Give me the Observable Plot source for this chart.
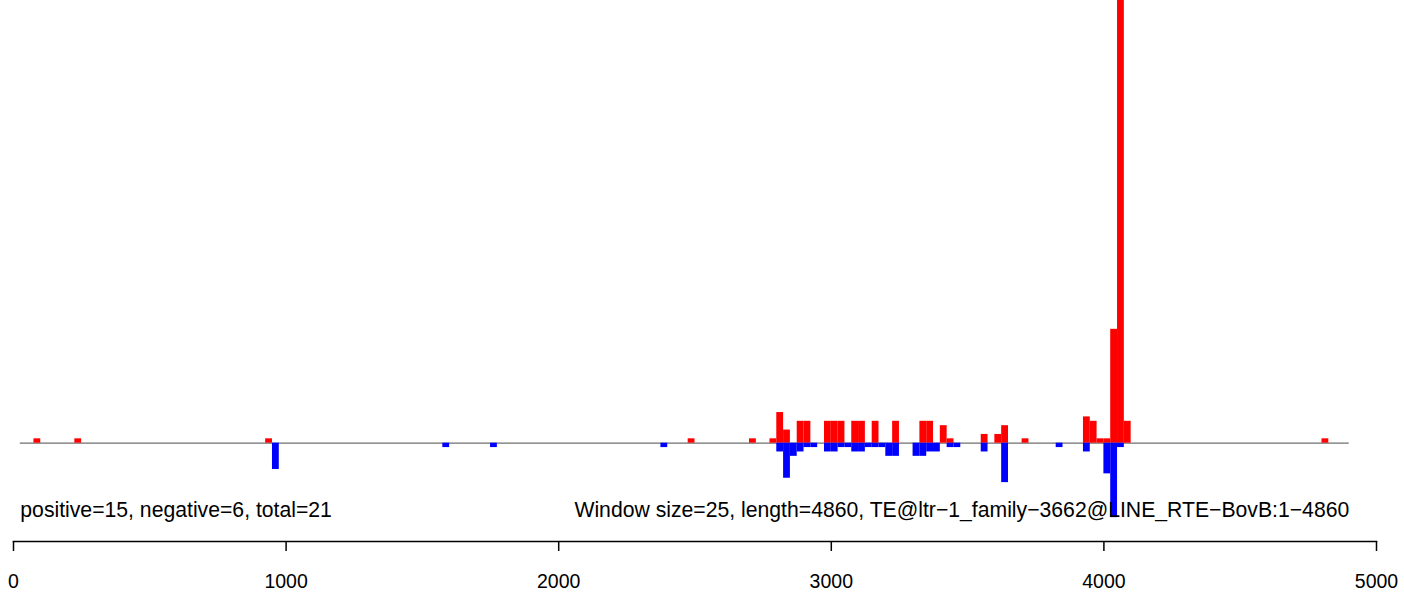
<!DOCTYPE html>
<html>
<head>
<meta charset="utf-8">
<script src="https://cdn.jsdelivr.net/npm/d3@7"></script>
<script src="https://cdn.jsdelivr.net/npm/@observablehq/plot@0.6"></script>
<style>
  html, body { margin: 0; padding: 0; background: #fff; }
  svg { display: block; }
</style>
</head>
<body>
<div id="chart"></div>
<script>
// Window start positions (window size 25) and counts
const windowSize = 25;
const posStarts = [75, 225, 925, 2475, 2700, 2775, 2800, 2825, 2875, 2900, 2975, 3000, 3025, 3075, 3100, 3150, 3225, 3325, 3350, 3400, 3425, 3550, 3600, 3625, 3700, 3925, 3950, 3975, 4000, 4025, 4050, 4075, 4800];
const posValues = [1, 1, 1, 1, 1, 1, 7, 3, 5, 5, 5, 5, 5, 5, 5, 5, 5, 5, 5, 4, 1, 2, 2, 4, 1, 6, 5, 1, 1, 26, 140, 5, 1];
const negStarts = [950, 1575, 1750, 2375, 2800, 2825, 2850, 2875, 2900, 2925, 2975, 3000, 3025, 3050, 3075, 3100, 3125, 3150, 3175, 3200, 3225, 3300, 3325, 3350, 3375, 3425, 3450, 3550, 3625, 3825, 3925, 4000, 4025, 4050];
const negValues = [6, 1, 1, 1, 2, 8, 3, 2, 1, 1, 2, 2, 1, 1, 2, 2, 1, 1, 1, 3, 3, 3, 3, 2, 2, 1, 1, 2, 9, 1, 2, 7, 17, 1];
const xTicks = [0, 1000, 2000, 3000, 4000, 5000];
const leftNote = "positive=15, negative=6, total=21";
const rightNote = "Window size=25, length=4860, TE@ltr\u22121_family\u22123662@LINE_RTE\u2212BovB:1\u22124860";

const pos = posStarts.map((s, i) => ({x1: s, x2: s + windowSize, y: posValues[i]}));
const neg = negStarts.map((s, i) => ({x1: s, x2: s + windowSize, y: -negValues[i]}));

const W = 1404, H = 592;
const mTop = 0, mBottom = 51;
const base = 442.7, unit = 4.38;
const yTop = (base - mTop) / unit;
const yBot = -((H - mBottom) - base) / unit;

const chart = Plot.plot({
  width: W,
  height: H,
  marginLeft: 13,
  marginRight: 28,
  marginTop: mTop,
  marginBottom: mBottom,
  style: {fontFamily: "'Liberation Sans', Arial, Helvetica, sans-serif", color: "#000", background: "#fff"},
  x: {domain: [0, 5000]},
  y: {domain: [yBot, yTop], axis: null},
  marks: [
    Plot.ruleY([0], {x1: 25, x2: 4900, stroke: "#6f6f6f", strokeWidth: 1.2}),
    Plot.rect(pos, {x1: "x1", x2: "x2", y1: 0, y2: "y", fill: "#ff0000", clip: true}),
    Plot.rect(neg, {x1: "x1", x2: "x2", y1: 0, y2: "y", fill: "#0000ff", clip: true}),
    Plot.text([leftNote], {x: () => 25, frameAnchor: "bottom", dy: -25, text: d => d, textAnchor: "start", fontSize: 21.2, fill: "#000"}),
    Plot.text([rightNote], {x: () => 4900, frameAnchor: "bottom", dy: -25, text: d => d, textAnchor: "end", fontSize: 21.2, fill: "#000"}),
    Plot.frame({anchor: "bottom", stroke: "#000", strokeWidth: 1.5}),
    Plot.axisX({ticks: xTicks, tickFormat: d => String(d), tickSize: 10, tickPadding: 23, fontSize: 19.5, stroke: "#000", strokeWidth: 1.5, label: null})
  ]
});
document.getElementById("chart").appendChild(chart);
</script>
</body>
</html>
